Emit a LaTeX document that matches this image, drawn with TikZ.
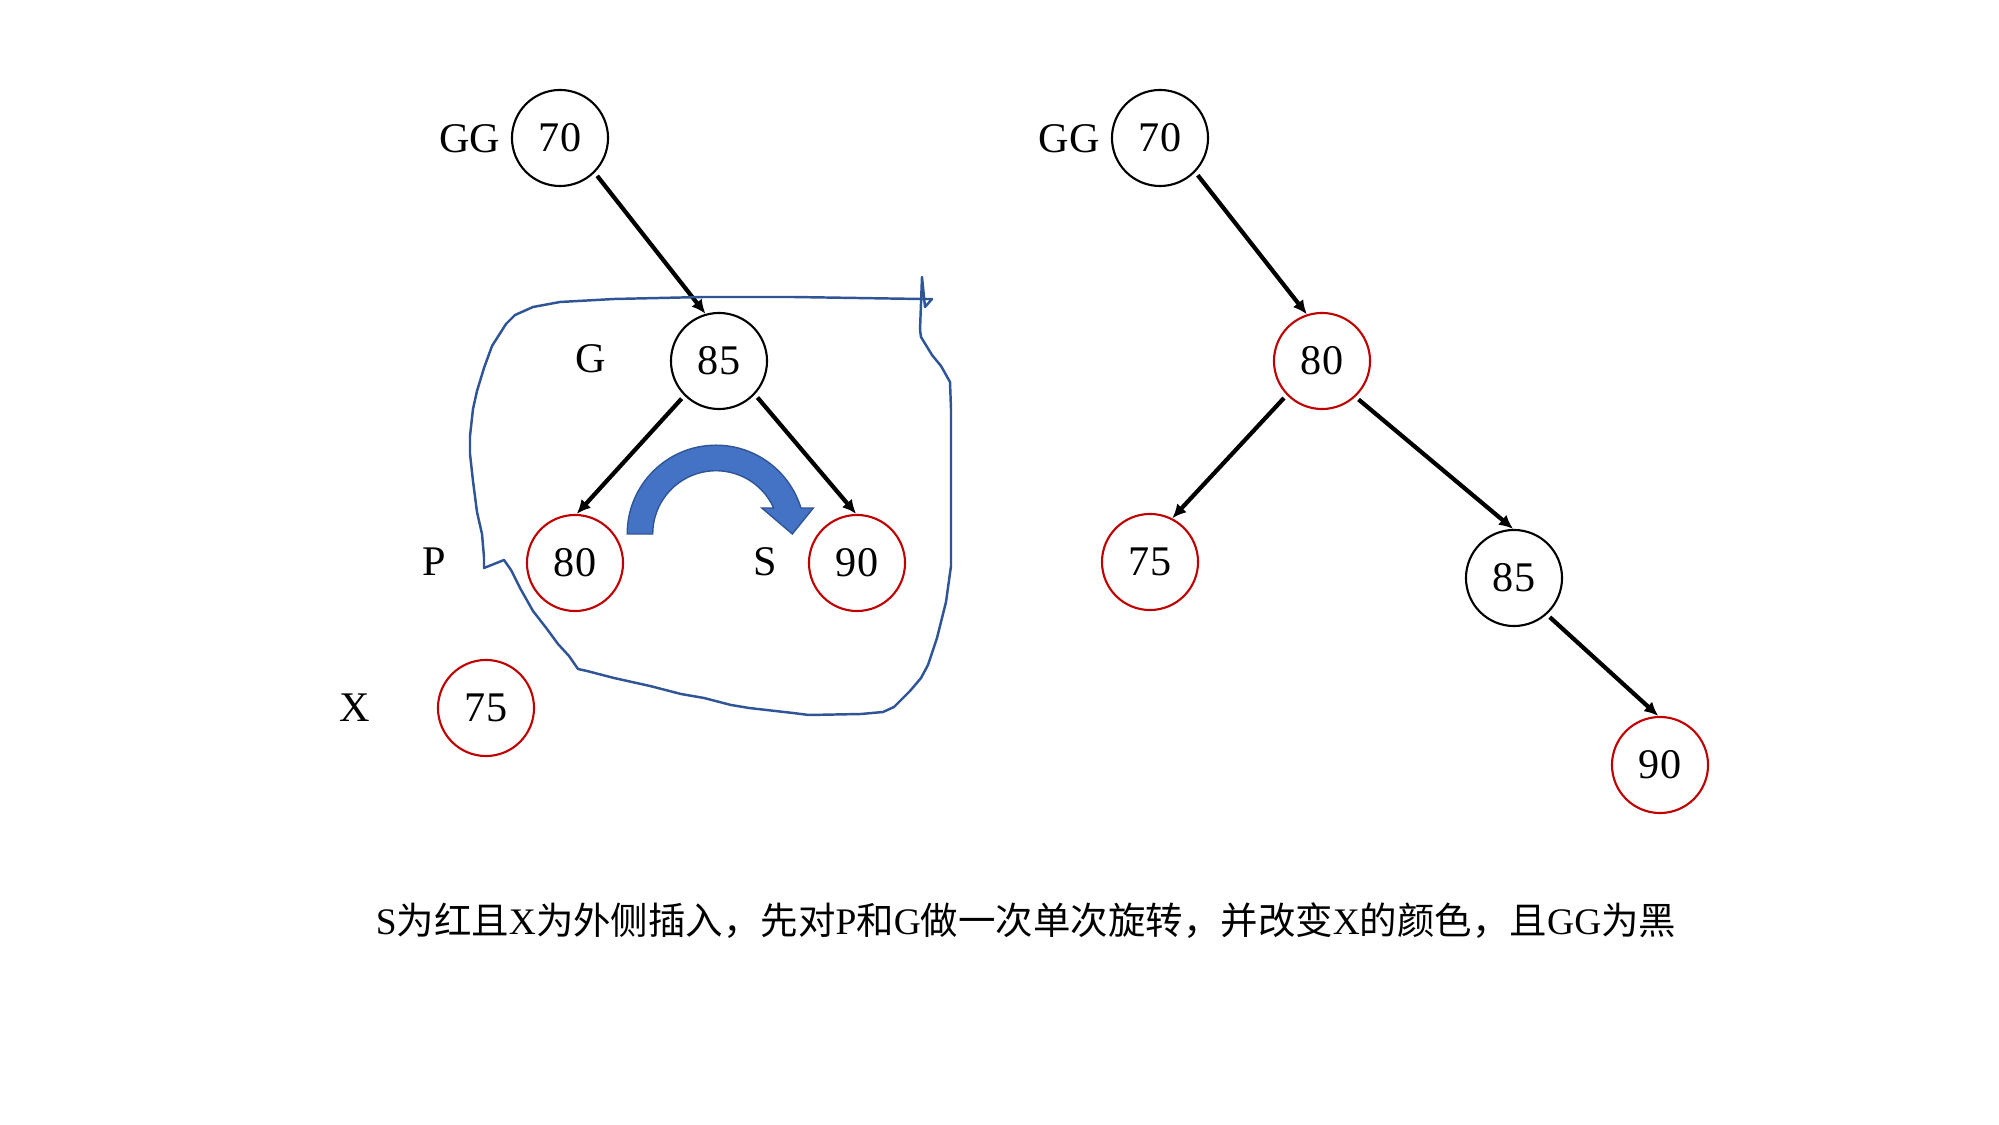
\documentclass[tikz,border=0pt]{standalone}
\usepackage{fontspec}
\setmainfont{Liberation Serif}
\newfontfamily\cjk{Noto Sans CJK SC}
\usetikzlibrary{positioning,arrows.meta}
\definecolor{nodered}{RGB}{192,0,0}
\definecolor{arcblue}{RGB}{68,114,196}
\definecolor{penblue}{RGB}{47,85,151}

\begin{document}
\begin{tikzpicture}[x=0.01cm,y=-0.01cm,
  bk/.style={circle,draw=black,line width=0.6pt,minimum size=0.96cm,inner sep=0pt,font=\fontsize{12}{14}\selectfont},
  rd/.style={bk,draw=nodered},
  lbl/.style={font=\fontsize{12}{14}\selectfont},
  edge/.style={-{Latex[length=0.14cm,width=0.13cm]},line width=1.2pt,shorten <=0.04cm}]
\useasboundingbox (0,0) rectangle (1999,1125);
% 左：旋转前
\node[bk] (gg1) at (560,138) {70};
\node[bk] (g1) at (719,361) {85};
\node[rd] (p1) at (575,563) {80};
\node[rd] (s1) at (857,563) {90};
\node[rd] (x1) at (486,708) {75};
\node[lbl] at (470,139) {GG};
\node[lbl] at (591,359) {G};
\node[lbl] at (434,562) {P};
\node[lbl] at (765,562) {S};
\node[lbl] at (355,708) {X};
\draw[edge] (gg1.-45) -- (g1.106);
\draw[edge] (g1.225) -- (p1.88);
\draw[edge] (g1.-43) -- (s1.91);

% 旋转箭头
\fill[arcblue,draw=penblue,line width=0.4pt,shift={(716,534)}]
  (-88.8,0) arc[start angle=180,end angle=343,radius=88.8]
  -- (97.3,-26) -- (76.3,0) -- (45.8,-26) -- (57.7,-26)
  arc[start angle=335.7,end angle=180,radius=63.3] -- cycle;

% 手画的圈
\draw[penblue,line width=0.7pt,line join=round]
  (921,299) -- (932,299) -- (925,307) -- (922,277) -- (920,330) -- (921,337)
  -- (932,355) -- (941,366) -- (950,382) -- (951,409) -- (951,566) -- (946,602)
  -- (937,638) -- (928,665) -- (921,678) -- (910,691) -- (894,707) -- (883,712)
  -- (861,714) -- (809,715) -- (793,713) -- (749,708) -- (731,705) -- (704,698)
  -- (681,694) -- (650,686) -- (614,678) -- (587,671) -- (578,669) -- (569,656)
  -- (558,644) -- (547,629) -- (533,611) -- (520,588) -- (511,570) -- (504,560)
  -- (484,568) -- (484,557) -- (482,534) -- (477,512) -- (473,481) -- (470,454)
  -- (470,436) -- (473,409) -- (477,391) -- (484,368) -- (492,346) -- (506,324)
  -- (515,315) -- (533,307) -- (560,302) -- (614,299) -- (704,297) -- (793,297)
  -- (921,299);

% 右：旋转后
\node[bk] (gg2) at (1160,138) {70};
\node[rd] (p2) at (1322,361) {80};
\node[rd] (x2) at (1150,562) {75};
\node[bk] (g2) at (1514,578) {85};
\node[rd] (s2) at (1660,765) {90};
\node[lbl] at (1069,139) {GG};
\draw[edge] (gg2.-44) -- (p2.108);
\draw[edge] (p2.224) -- (x2.63);
\draw[edge] (p2.-47) -- (g2.91);
\draw[edge] (g2.-48) -- (s2.92);

\node[font=\fontsize{10.65}{13}\selectfont] (cap) at (1026,921)
  {S{\cjk 为红且}X{\cjk 为外侧插入，先对}P{\cjk 和}G{\cjk 做一次单次旋转，并改变}X{\cjk 的颜色，且}GG{\cjk 为黑}};
\end{tikzpicture}
\end{document}
